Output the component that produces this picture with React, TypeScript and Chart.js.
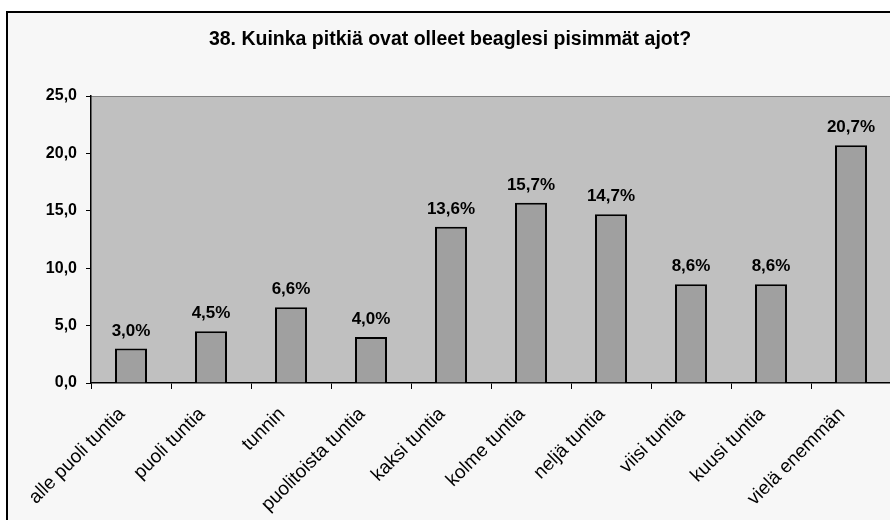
import React, { useEffect, useRef } from "react";
import { Chart, registerables } from "chart.js";

Chart.register(...registerables);

const TITLE = "38. Kuinka pitkiä ovat olleet beaglesi pisimmät ajot?";
const CATEGORIES = [
  "alle puoli tuntia",
  "puoli tuntia",
  "tunnin",
  "puolitoista tuntia",
  "kaksi tuntia",
  "kolme tuntia",
  "neljä tuntia",
  "viisi tuntia",
  "kuusi tuntia",
  "vielä enemmän",
];
const VALUES = [3.0, 4.5, 6.6, 4.0, 13.6, 15.7, 14.7, 8.6, 8.6, 20.7];
const Y_MIN = 0;
const Y_MAX = 25;
const Y_STEP = 5;

const FAMILY = 'Arial, "Liberation Sans", Helvetica, sans-serif';
const fmt = (v: number) => v.toFixed(1).replace(".", ",");

export default function App() {
  const ref = useRef<HTMLCanvasElement>(null);

  useEffect(() => {
    if (!ref.current) return;

    const framePlugin = {
      id: "framePlugin",
      beforeDraw(chart: any) {
        const { ctx, chartArea: a, width, height } = chart;
        ctx.save();
        ctx.fillStyle = "#FFFFFF";
        ctx.fillRect(0, 0, width, height);
        ctx.fillStyle = "#F7F7F7";
        ctx.fillRect(7, 12, width, height);
        ctx.strokeStyle = "#000000";
        ctx.lineWidth = 2;
        ctx.beginPath();
        ctx.moveTo(7, height + 10);
        ctx.lineTo(7, 12);
        ctx.lineTo(width + 10, 12);
        ctx.stroke();
        ctx.fillStyle = "#C0C0C0";
        ctx.fillRect(a.left, a.top, a.right - a.left, a.bottom - a.top);
        ctx.strokeStyle = "#808080";
        ctx.lineWidth = 1;
        ctx.beginPath();
        ctx.moveTo(a.left, Math.round(a.top) + 0.5);
        ctx.lineTo(a.right, Math.round(a.top) + 0.5);
        ctx.stroke();
        ctx.restore();
      },
    };

    const valueLabels = {
      id: "valueLabels",
      afterDatasetsDraw(chart: any) {
        const { ctx } = chart;
        const meta = chart.getDatasetMeta(0);
        ctx.save();
        ctx.font = `bold 17px ${FAMILY}`;
        ctx.fillStyle = "#000000";
        ctx.textAlign = "center";
        ctx.textBaseline = "alphabetic";
        meta.data.forEach((el: any, i: number) => {
          ctx.fillText(fmt(VALUES[i]) + "%", el.x, el.y - 13);
        });
        ctx.restore();
      },
    };

    const chart = new Chart(ref.current, {
      type: "bar",
      data: {
        labels: CATEGORIES,
        datasets: [
          {
            data: VALUES,
            backgroundColor: "#A0A0A0",
            borderColor: "#000000",
            borderWidth: 2,
            categoryPercentage: 1,
            barPercentage: 0.4,
          },
        ],
      },
      options: {
        animation: false,
        responsive: true,
        maintainAspectRatio: false,
        devicePixelRatio: 1,
        layout: { padding: { left: 9, right: 9, top: 0, bottom: 0 } },
        plugins: {
          legend: { display: false },
          tooltip: { enabled: false },
          title: {
            display: true,
            text: TITLE,
            color: "#000000",
            font: { family: FAMILY, size: 19.5, weight: "bold" },
            padding: { top: 28, bottom: 44.6 },
          },
        },
        scales: {
          x: {
            grid: {
              display: true,
              drawOnChartArea: false,
              drawTicks: true,
              tickLength: 6,
              color: "#000000",
              offset: true,
            },
            border: { display: true, color: "#000000", width: 1.5 },
            ticks: {
              color: "#000000",
              font: { family: FAMILY, size: 19 },
              minRotation: 45,
              maxRotation: 45,
              autoSkip: false,
              padding: 14,
              labelOffset: -9,
            },
            afterFit(s: any) {
              s.height = 137;
            },
          },
          y: {
            min: Y_MIN,
            max: Y_MAX,
            grid: {
              drawOnChartArea: false,
              drawTicks: true,
              tickLength: 5,
              color: "#000000",
            },
            border: { display: true, color: "#000000", width: 1.5 },
            ticks: {
              stepSize: Y_STEP,
              color: "#000000",
              font: { family: FAMILY, size: 16, weight: "bold" },
              padding: 9,
              callback: (v: any) => fmt(Number(v)),
            },
            afterFit(s: any) {
              s.width = 82;
            },
          },
        },
      },
      plugins: [framePlugin, valueLabels],
    });

    return () => chart.destroy();
  }, []);

  return (
    <div
      style={{
        position: "fixed",
        left: 0,
        top: 0,
        width: 890,
        height: 520,
        overflow: "hidden",
        background: "#fff",
      }}
    >
      <div style={{ width: 900, height: 520 }}>
        <canvas ref={ref} />
      </div>
    </div>
  );
}
